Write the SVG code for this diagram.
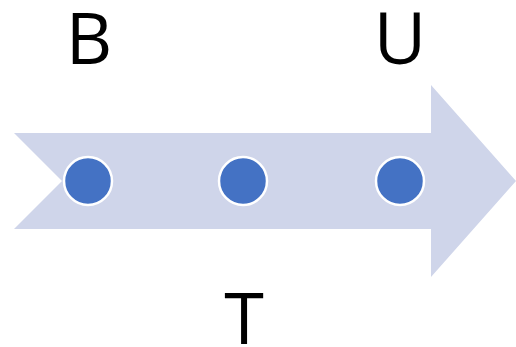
<svg xmlns="http://www.w3.org/2000/svg" width="516" height="347" viewBox="0 0 516 347">
  <style>
    .label { font-family: "Open Sans", "Liberation Sans", sans-serif; font-size: 72px; fill: #000; text-anchor: middle; }
    .dot { fill: #4472c4; stroke: #ffffff; stroke-width: 2.5; }
  </style>
  <g id="arrow">
    <polygon points="14,133 431,133 431,85 516,181 431,277 431,229 14,229 62,181" fill="#cfd5ea"/>
  </g>
  <g id="node-b"><circle class="dot" cx="88" cy="181" r="24"/></g>
  <g id="node-t"><circle class="dot" cx="243" cy="181" r="24"/></g>
  <g id="node-u"><circle class="dot" cx="400" cy="181" r="24"/></g>
  <g id="labels">
    <text class="label" x="89" y="64">B</text>
    <text class="label" x="400" y="64">U</text>
    <text class="label" x="244" y="344">T</text>
  </g>
</svg>
